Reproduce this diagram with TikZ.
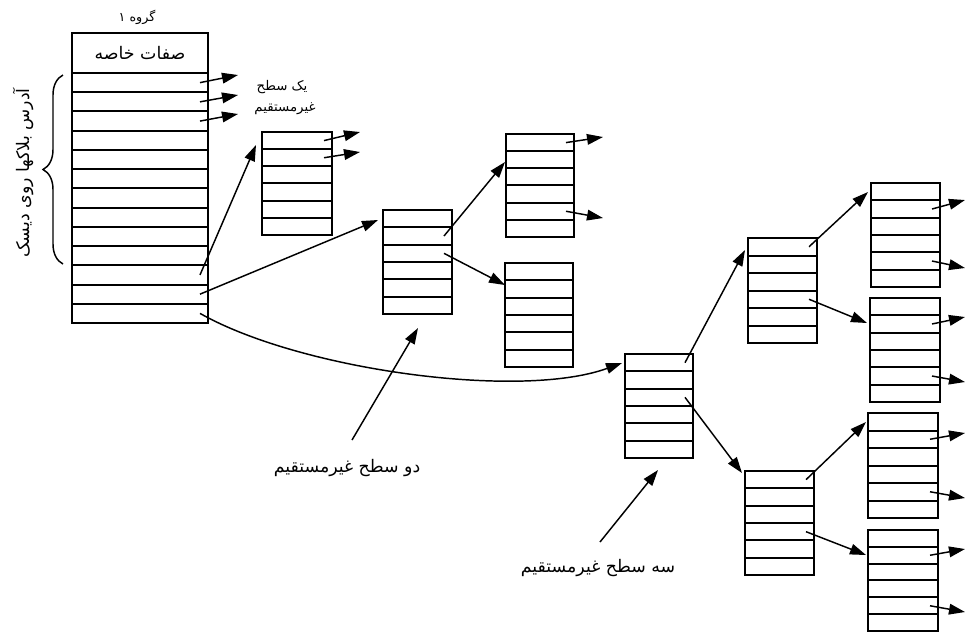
\documentclass[tikz,border=0pt]{standalone}
\usepackage{fontspec}
\newfontfamily\arabicfont[Script=Arabic]{DejaVu Sans}
\TeXXeTstate=1
\usetikzlibrary{arrows.meta,decorations.pathreplacing,calc}

\tikzset{
  blockbox/.style={draw=black, line width=1.5pt, inner sep=0pt, outer sep=0pt, fill=none},
  rowline/.style={draw=black, line width=1.5pt},
  arr/.style={draw=black, line width=1.1pt, -{Triangle[length=12pt,width=8pt]}},
  txt/.style={inner sep=1pt, font=\arabicfont\fontsize{13}{15}\selectfont},
}

\newcommand\tblock[6]{% name,left,top,width,height,rows
  \node[blockbox, minimum width=#4*0.75pt, minimum height=#5*0.75pt, anchor=north west] (#1) at (#2,#3) {};
  \pgfmathsetmacro\rh{#5/#6}
  \foreach \i in {1,...,#6}{
    \pgfmathsetmacro\yc{#3+(\i-0.5)*\rh}
    \coordinate (#1-r\i) at (#2+#4-8,\yc);
  }
  \foreach \i in {2,...,#6}{
    \pgfmathsetmacro\yl{round(#3+(\i-1)*\rh)}
    \draw[rowline] (#2,\yl) -- (#2+#4,\yl);
  }
}

\begin{document}
\begin{tikzpicture}[x=0.75pt,y=-0.75pt]
\useasboundingbox (0,0) rectangle (966,633);
\fill[white] (0,0) rectangle (966,633);

% main block
\node[blockbox, minimum width=136*0.75pt, minimum height=40*0.75pt, anchor=north west] (H) at (72,33) {};
\node[txt] (Ht) at (H.center) {\beginR صفات خاصه\endR};
\tblock{M}{72}{73}{136}{250}{13}
\node[txt, font=\arabicfont\fontsize{9.5}{11}\selectfont] (T) at (137,17) {\beginR گروه ۱\endR};

% brace and vertical label
\coordinate (b1) at (63,264);
\coordinate (b2) at (63,75);
\draw[line width=1.1pt, decorate, decoration={brace, amplitude=15pt}] (b1) -- (b2);
\node[txt, rotate=90] (V) at (23,173) {\beginR آدرس بلاکها روی دیسک\endR};

% blocks
\tblock{A}{262}{132}{70}{103}{6}
\tblock{B}{383}{210}{69}{104}{6}
\tblock{C}{506}{134}{68}{103}{6}
\tblock{D}{505}{263}{68}{104}{6}
\tblock{E}{625}{354}{68}{104}{6}
\tblock{F}{748}{238}{69}{105}{6}
\tblock{K}{745}{471}{69}{104}{6}
\tblock{G1}{871}{183}{69}{104}{6}
\tblock{G2}{870}{298}{70}{104}{6}
\tblock{G3}{868}{413}{70}{105}{6}
\tblock{G4}{868}{530}{70}{101}{6}

% labels
\node[txt, font=\arabicfont\fontsize{10}{12}\selectfont] (L1a) at (282,87) {\beginR یک سطح\endR};
\node[txt, font=\arabicfont\fontsize{10}{12}\selectfont] (L1b) at (285,109) {\beginR غیرمستقیم\endR};
\node[txt] (L2) at (347,468) {\beginR دو سطح غیرمستقیم\endR};
\node[txt] (L3) at (598,568) {\beginR سه سطح غیرمستقیم\endR};

% free ends / tips
\coordinate (m1) at (238,75);
\coordinate (m2) at (238,95);
\coordinate (m3) at (238,114);
\coordinate (Ain) at (256,145);
\coordinate (Bin) at (378,220);
\coordinate (Ein) at (622,363);
\coordinate (a1) at (360,132);
\coordinate (a2) at (360,152);
\coordinate (Cin) at (505,162);
\coordinate (Din) at (505,285);
\coordinate (c1) at (603,137);
\coordinate (c5) at (603,218);
\coordinate (Fin) at (745,250);
\coordinate (Kin) at (742,473);
\coordinate (G1in) at (868,192);
\coordinate (G2in) at (867,323);
\coordinate (G3in) at (866,422);
\coordinate (G4in) at (866,555);
\coordinate (g12) at (965,200);
\coordinate (g15) at (965,268);
\coordinate (g22) at (965,317);
\coordinate (g25) at (965,382);
\coordinate (g32) at (965,433);
\coordinate (g35) at (965,498);
\coordinate (g42) at (965,549);
\coordinate (g45) at (965,612);
\coordinate (L2s) at (352,440);
\coordinate (L2t) at (418,328);
\coordinate (L3s) at (600,542);
\coordinate (L3t) at (658,470);

% connectors
\draw[arr] (M-r1) -- (m1);
\draw[arr] (M-r2) -- (m2);
\draw[arr] (M-r3) -- (m3);
\draw[arr] (M-r11) -- (Ain);
\draw[arr] (M-r12) -- (Bin);
\draw[arr] (M-r13) .. controls (300,370) and (520,400) .. (Ein);
\draw[arr] (A-r1) -- (a1);
\draw[arr] (A-r2) -- (a2);
\draw[arr] (B-r2) -- (Cin);
\draw[arr] (B-r3) -- (Din);
\draw[arr] (C-r1) -- (c1);
\draw[arr] (C-r5) -- (c5);
\draw[arr] (E-r1) -- (Fin);
\draw[arr] (E-r3) -- (Kin);
\draw[arr] (F-r1) -- (G1in);
\draw[arr] (F-r4) -- (G2in);
\draw[arr] (K-r1) -- (G3in);
\draw[arr] (K-r4) -- (G4in);
\draw[arr] (G1-r2) -- (g12);
\draw[arr] (G1-r5) -- (g15);
\draw[arr] (G2-r2) -- (g22);
\draw[arr] (G2-r5) -- (g25);
\draw[arr] (G3-r2) -- (g32);
\draw[arr] (G3-r5) -- (g35);
\draw[arr] (G4-r2) -- (g42);
\draw[arr] (G4-r5) -- (g45);
\draw[arr] (L2s) -- (L2t);
\draw[arr] (L3s) -- (L3t);
\end{tikzpicture}
\end{document}
